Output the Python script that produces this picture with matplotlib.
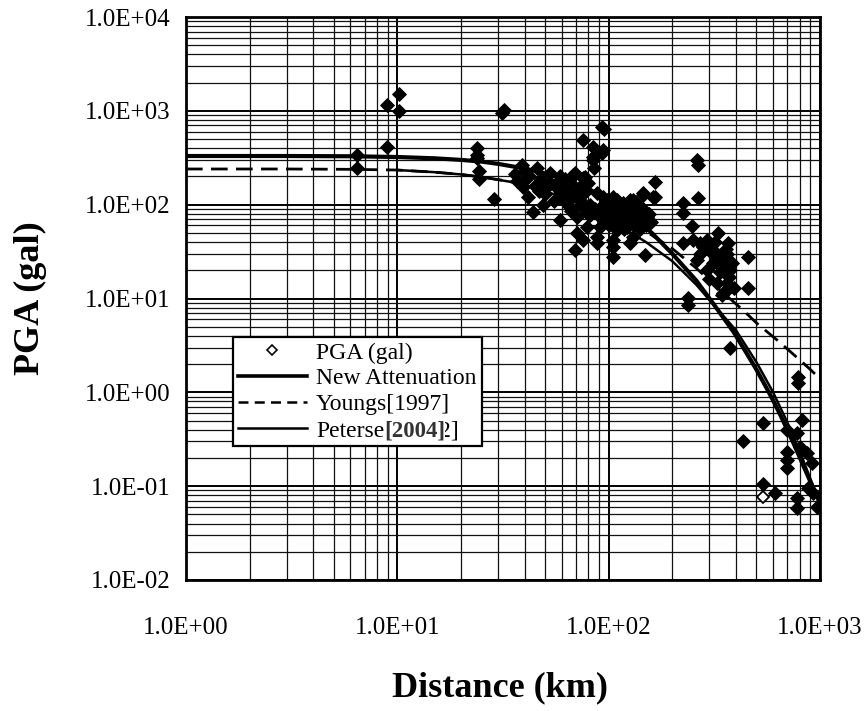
import numpy as np
import matplotlib
matplotlib.use("Agg")
import matplotlib.pyplot as plt
from matplotlib.lines import Line2D
from matplotlib.ticker import LogLocator, NullFormatter, FixedLocator, FixedFormatter

plt.rcParams['font.family'] = ['Liberation Serif', 'DejaVu Serif']

# ---------------- data ----------------
x_ticks = [1, 10, 100, 1000]
x_tick_labels = ["1.0E+00", "1.0E+01", "1.0E+02", "1.0E+03"]
y_ticks = [0.01, 0.1, 1, 10, 100, 1000, 10000]
y_tick_labels = ["1.0E-02", "1.0E-01", "1.0E+00", "1.0E+01", "1.0E+02", "1.0E+03", "1.0E+04"]

# observed PGA records (distance km, PGA gal)
dist_km = [
    6.45, 6.45, 8.94, 10.2, 10.2, 8.94, 23.8, 23.8, 23.8, 24.4, 24.4, 28.7, 31.3, 31.8,
    93.0, 95, 75.6, 84.4, 94.0, 84.4, 93.0, 84.4, 85.3,
    38.9, 45.8, 58.9, 69.3, 77.3, 39.3, 43.9, 51.1, 58.9, 65.6, 73.2,
    58.9, 65.6, 73.2, 79.0, 88.1, 98.2, 110, 70.8, 79.0, 88.1, 69.3, 105, 105, 122, 126, 145, 162, 166,
    130, 141, 152, 130, 149,
    38.9, 41.6, 52.8, 58.9, 67.9, 75.6, 60.1, 65.6, 94.0, 105, 70.8, 81.6, 75.6, 88.1, 105, 117, 130,
    145, 166, 126, 110, 91.0,
    60, 62, 64, 66, 68, 72, 75, 78, 80, 82, 86, 90, 92, 95, 97, 100, 100, 103, 108, 112, 115, 118,
    120, 124, 128, 132, 135, 138, 140, 145, 150, 155, 158, 48, 50, 53, 55, 56, 62, 45, 42, 40, 36,
    37, 47, 49,
    225, 225, 248, 262, 265, 265, 225, 251, 271, 280, 292, 330, 367, 271, 312, 363, 363, 326, 326,
    363, 292, 337, 376, 326, 363, 348, 457, 457, 238, 238, 262, 363, 344,
    300, 310, 320, 340, 350, 360, 370, 385, 390, 300,
    376, 787, 787, 538, 433, 823, 699, 778, 805, 699, 699, 699, 869, 918, 538, 614, 778, 778, 879,
    968, 927,
]
pga_gal = [
    338, 245, 1153, 1510, 995, 411, 401, 338, 314, 228, 187, 115, 948, 1010,
    671, 640, 489, 411, 382, 322, 355, 299, 245,
    264, 245, 200, 217, 197, 154, 83, 154, 133, 143, 154,
    69, 94, 112, 81, 133, 112, 112, 50, 58, 39, 33, 28, 42, 58, 112, 133, 120, 174,
    81, 69, 74, 45, 29,
    170, 120, 170, 183, 207, 192, 143, 120, 120, 120, 74, 77, 42, 45, 35, 104, 112,
    127, 120, 39, 54, 58,
    160, 110, 100, 85, 160, 130, 95, 140, 170, 100, 90, 75, 95, 65, 85, 95, 60, 75, 90, 65, 80, 55,
    90, 70, 95, 60, 85, 100, 55, 90, 60, 80, 65, 190, 130, 215, 110, 160, 190, 160, 200, 230, 210,
    180, 140, 100,
    104, 81, 59, 299, 264, 117, 39, 42, 39, 35, 42, 50, 39, 30, 30, 30, 26, 30, 24,
    22, 20, 19, 20, 14.6, 14.6, 11.4, 28, 12.9, 10.1, 8.6, 26, 12.3, 10.9,
    33, 24, 40, 28, 22, 34, 17, 24, 13, 16,
    2.96, 1.45, 1.25, 0.47, 0.30, 0.51, 0.40, 0.37, 0.26, 0.23, 0.19, 0.156, 0.225, 0.176, 0.105,
    0.085, 0.074, 0.058, 0.095, 0.060, 0.085,
]
hollow_dist_km = [538]
hollow_pga_gal = [0.076]

# attenuation curves (distance km, PGA gal)
new_dist = [1, 3, 6, 10, 15, 20, 25, 30, 40, 50, 60, 80, 100, 130, 160, 200, 260, 320, 390, 450,
            500, 560, 600, 650, 700, 750, 800, 850, 900, 950, 1000]
new_pga = [330, 330, 328, 322, 312, 300, 288, 272, 243, 215, 190, 148, 112, 75, 50, 30, 15.5, 8.2,
           4.4, 2.6, 1.75, 1.1, 0.82, 0.57, 0.40, 0.285, 0.205, 0.15, 0.112, 0.085, 0.066]

youngs_dist = [1, 3, 6, 10, 15, 20, 25, 30, 35, 50, 70, 100, 150, 200, 260, 330, 433, 500, 627,
               700, 805, 900, 1000]
youngs_pga = [240, 240, 238, 234, 222, 210, 197, 185, 174, 145, 115, 85, 52, 34, 21, 12.8, 7.5,
              5.5, 3.6, 2.9, 2.2, 1.75, 1.4]

petersen_dist = [10, 15, 20, 25, 35, 50, 70, 100, 150, 200, 260, 330, 400, 500, 600, 700, 800, 900,
                 1000]
petersen_pga = [234, 222, 210, 197, 174, 140, 105, 70, 40, 25, 14, 7.5, 4.6, 2.1, 1.0, 0.48, 0.24,
                0.12, 0.066]

legend_labels = ["PGA (gal)", "New Attenuation", "Youngs[1997]", "Petersen[2002]"]
overlay_label = "[2004]"

# ---------------- figure ----------------
W, H = 866, 711
fig = plt.figure(figsize=(W / 100, H / 100), dpi=100)
ax = fig.add_axes([186 / W, 131 / H, 634 / W, 563 / H])
ax.set_xscale('log')
ax.set_yscale('log')
ax.set_xlim(1, 1000)
ax.set_ylim(0.01, 10000)

for axis in (ax.xaxis, ax.yaxis):
    axis.set_minor_locator(LogLocator(base=10, subs=np.arange(2, 10), numticks=100))
    axis.set_minor_formatter(NullFormatter())
ax.xaxis.set_major_locator(FixedLocator(x_ticks))
ax.xaxis.set_major_formatter(FixedFormatter(x_tick_labels))
ax.yaxis.set_major_locator(FixedLocator(y_ticks))
ax.yaxis.set_major_formatter(FixedFormatter(y_tick_labels))

ax.grid(True, which='major', color='black', lw=1.4, zorder=0)
ax.grid(True, which='minor', color='#111111', lw=0.9, zorder=0)
ax.set_axisbelow(True)
ax.tick_params(which='both', length=0)
ax.tick_params(axis='x', pad=27, labelsize=18)
ax.tick_params(axis='y', pad=11, labelsize=18)
for s in ax.spines.values():
    s.set_linewidth(2)
    s.set_color('black')

ax.plot(new_dist, new_pga, color='black', lw=3, zorder=2.5)
ax.plot(youngs_dist, youngs_pga, color='black', lw=2, dashes=(6, 3), zorder=2.5)
ax.plot(petersen_dist, petersen_pga, color='black', lw=1.8, zorder=2.5)

ax.plot(dist_km, pga_gal, ls='none', marker='D', ms=7.3, mfc='black', mec='black', mew=0.6,
        zorder=3)
ax.plot(hollow_dist_km, hollow_pga_gal, ls='none', marker='D', ms=6.5, mfc='white', mec='black',
        mew=1.3, zorder=3)

handles = [
    Line2D([], [], ls='none', marker='D', ms=5.5, mfc='white', mec='black', mew=1.2),
    Line2D([], [], color='black', lw=2.6),
    Line2D([], [], color='black', lw=1.8, dashes=(4, 2.5)),
    Line2D([], [], color='black', lw=1.8),
]
leg = ax.legend(handles, legend_labels, loc='upper left',
                bbox_to_anchor=((233 - 186) / 634, (580 - 337) / 563),
                fontsize=17, frameon=True, fancybox=False, edgecolor='black', framealpha=1,
                borderaxespad=0, handlelength=2.9, handletextpad=0.4, labelspacing=0.18,
                borderpad=0.22)
leg.get_frame().set_linewidth(1.6)
leg.set_zorder(10)

fig.text(500 / W, 1 - 688 / H, "Distance (km)", fontsize=26, fontweight='bold',
         ha='center', va='center')
fig.text(30 / W, 1 - 298 / H, "PGA (gal)", fontsize=26, fontweight='bold',
         ha='center', va='center', rotation=90)

# overlaid bold "[2004]" on the Petersen legend entry
fig.canvas.draw()
renderer = fig.canvas.get_renderer()
t = leg.get_texts()[3]
bb = t.get_window_extent(renderer)
tmp = fig.text(0, 0, "Peterse", fontsize=17)
wpre = tmp.get_window_extent(renderer).width
tmp.remove()
fig.text((bb.x0 + wpre) / W, (bb.y0 + bb.y1) / 2 / H, overlay_label, fontsize=16.5,
         fontweight='bold', color='#333333', ha='left', va='center', zorder=20,
         bbox=dict(fc='white', ec='none', pad=0))

fig.savefig("out.png", dpi=100)
